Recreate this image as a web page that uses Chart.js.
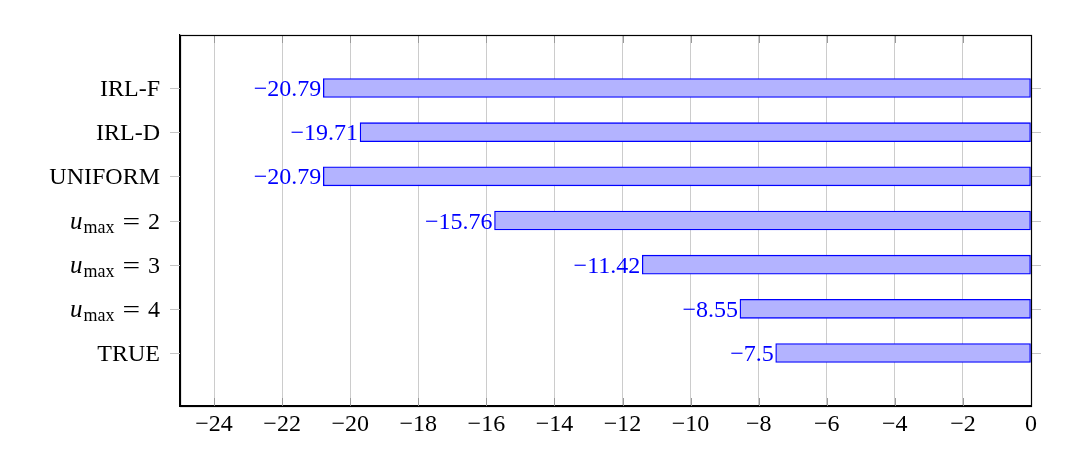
<!DOCTYPE html>
<html>
<head>
<meta charset="utf-8">
<script src="https://cdn.jsdelivr.net/npm/chart.js@4/dist/chart.umd.min.js"></script>
<style>
html,body{margin:0;padding:0;background:#fff;}
#wrap{width:1080px;height:475px;position:relative;}
</style>
</head>
<body>
<div id="wrap"><canvas id="c" width="1080" height="475"></canvas></div>
<script>
const categories = ['IRL-F', 'IRL-D', 'UNIFORM', 'u_max = 2', 'u_max = 3', 'u_max = 4', 'TRUE'];
const values = [-20.79, -19.71, -20.79, -15.76, -11.42, -8.55, -7.5];
const valueLabels = ['\u221220.79', '\u221219.71', '\u221220.79', '\u221215.76', '\u221211.42', '\u22128.55', '\u22127.5'];
const xTicks = [-24, -22, -20, -18, -16, -14, -12, -10, -8, -6, -4, -2, 0];

const FONT = '"Liberation Serif", "DejaVu Serif", serif';

const barData = values.map((v, i) => ({x: v, y: i}));

function drawYLabel(ctx, label, xRight, y) {
  ctx.fillStyle = '#000';
  ctx.textBaseline = 'alphabetic';
  const base = y + 8;
  const m = label.match(/^u_max = (\d+)$/);
  if (!m) {
    ctx.font = '24px ' + FONT;
    ctx.textAlign = 'right';
    ctx.fillText(label, xRight, base);
    return;
  }
  ctx.textAlign = 'right';
  ctx.font = '24px ' + FONT;
  ctx.fillText(m[1], xRight, base);
  let x = xRight - ctx.measureText(m[1]).width - 8;
  ctx.save();
  ctx.translate(x, base);
  ctx.scale(1.3, 1);
  ctx.fillText('=', 0, 0);
  ctx.restore();
  x -= ctx.measureText('=').width * 1.3 + 8;
  ctx.font = '18px ' + FONT;
  ctx.fillText('max', x, base + 4);
  x -= ctx.measureText('max').width + 1;
  ctx.font = 'italic 25px ' + FONT;
  ctx.fillText('u', x, base);
}

const decor = {
  id: 'decor',
  beforeDatasetsDraw(chart) {
    const {ctx, chartArea: a, scales} = chart;
    ctx.save();
    ctx.strokeStyle = '#9a9a9a';
    ctx.lineWidth = 1;
    xTicks.forEach(t => {
      if (t === 0) return;
      const px = Math.round(scales.x.getPixelForValue(t)) + 0.5;
      ctx.beginPath();
      ctx.moveTo(px, a.top); ctx.lineTo(px, a.top + 8);
      ctx.moveTo(px, a.bottom); ctx.lineTo(px, a.bottom - 8);
      ctx.stroke();
    });
    ctx.restore();
  },
  afterDraw(chart) {
    const {ctx, chartArea: a, scales} = chart;
    ctx.save();
    ctx.strokeStyle = '#c4c4c4';
    ctx.lineWidth = 1;
    categories.forEach((c, i) => {
      const py = Math.round(scales.y.getPixelForValue(i)) + 0.5;
      ctx.beginPath();
      ctx.moveTo(a.left - 10, py); ctx.lineTo(a.left, py);
      ctx.moveTo(a.right, py); ctx.lineTo(a.right + 10, py);
      ctx.stroke();
    });
    ctx.strokeStyle = '#000';
    ctx.lineWidth = 1.2;
    ctx.strokeRect(Math.round(a.left) + 0.5, Math.round(a.top) + 0.5, Math.round(a.right - a.left), Math.round(a.bottom - a.top));
    categories.forEach((c, i) => {
      const py = scales.y.getPixelForValue(i);
      drawYLabel(ctx, c, a.left - 20, py);
    });
    const meta = chart.getDatasetMeta(0);
    ctx.font = '24px ' + FONT;
    ctx.fillStyle = '#0000ff';
    ctx.textAlign = 'right';
    ctx.textBaseline = 'alphabetic';
    meta.data.forEach((el, i) => {
      ctx.fillText(valueLabels[i], el.x - 2, el.y + 8);
    });
    ctx.restore();
  }
};

new Chart(document.getElementById('c'), {
  type: 'bar',
  data: {
    datasets: [{
      data: barData,
      backgroundColor: '#b3b3ff',
      borderColor: '#0000ff',
      borderWidth: 1.3,
      borderSkipped: false,
      barThickness: 19
    }]
  },
  options: {
    indexAxis: 'y',
    responsive: false,
    animation: false,
    layout: {padding: {top: 35, right: 49, left: 0, bottom: 0}},
    plugins: {legend: {display: false}, tooltip: {enabled: false}},
    scales: {
      x: {
        type: 'linear',
        min: -25,
        max: 0,
        offset: false,
        afterBuildTicks(scale) { scale.ticks = xTicks.map(v => ({value: v})); },
        afterFit(scale) { scale.height = 69; },
        grid: {color: '#cccccc', lineWidth: 1, drawTicks: false, offset: false},
        border: {display: true, color: '#000', width: 1.2},
        ticks: {
          padding: 4,
          color: '#000',
          font: {family: FONT, size: 24},
          callback: v => (v < 0 ? '\u2212' + Math.abs(v) : String(v))
        }
      },
      y: {
        type: 'linear',
        reverse: true,
        min: -1.2,
        max: 7.2,
        offset: false,
        afterBuildTicks(scale) { scale.ticks = categories.map((c, i) => ({value: i})); },
        afterFit(scale) { scale.width = 180; },
        grid: {display: false, offset: false},
        border: {display: true, color: '#000', width: 1.2},
        ticks: {display: false}
      }
    }
  },
  plugins: [decor]
});
</script>
</body>
</html>
